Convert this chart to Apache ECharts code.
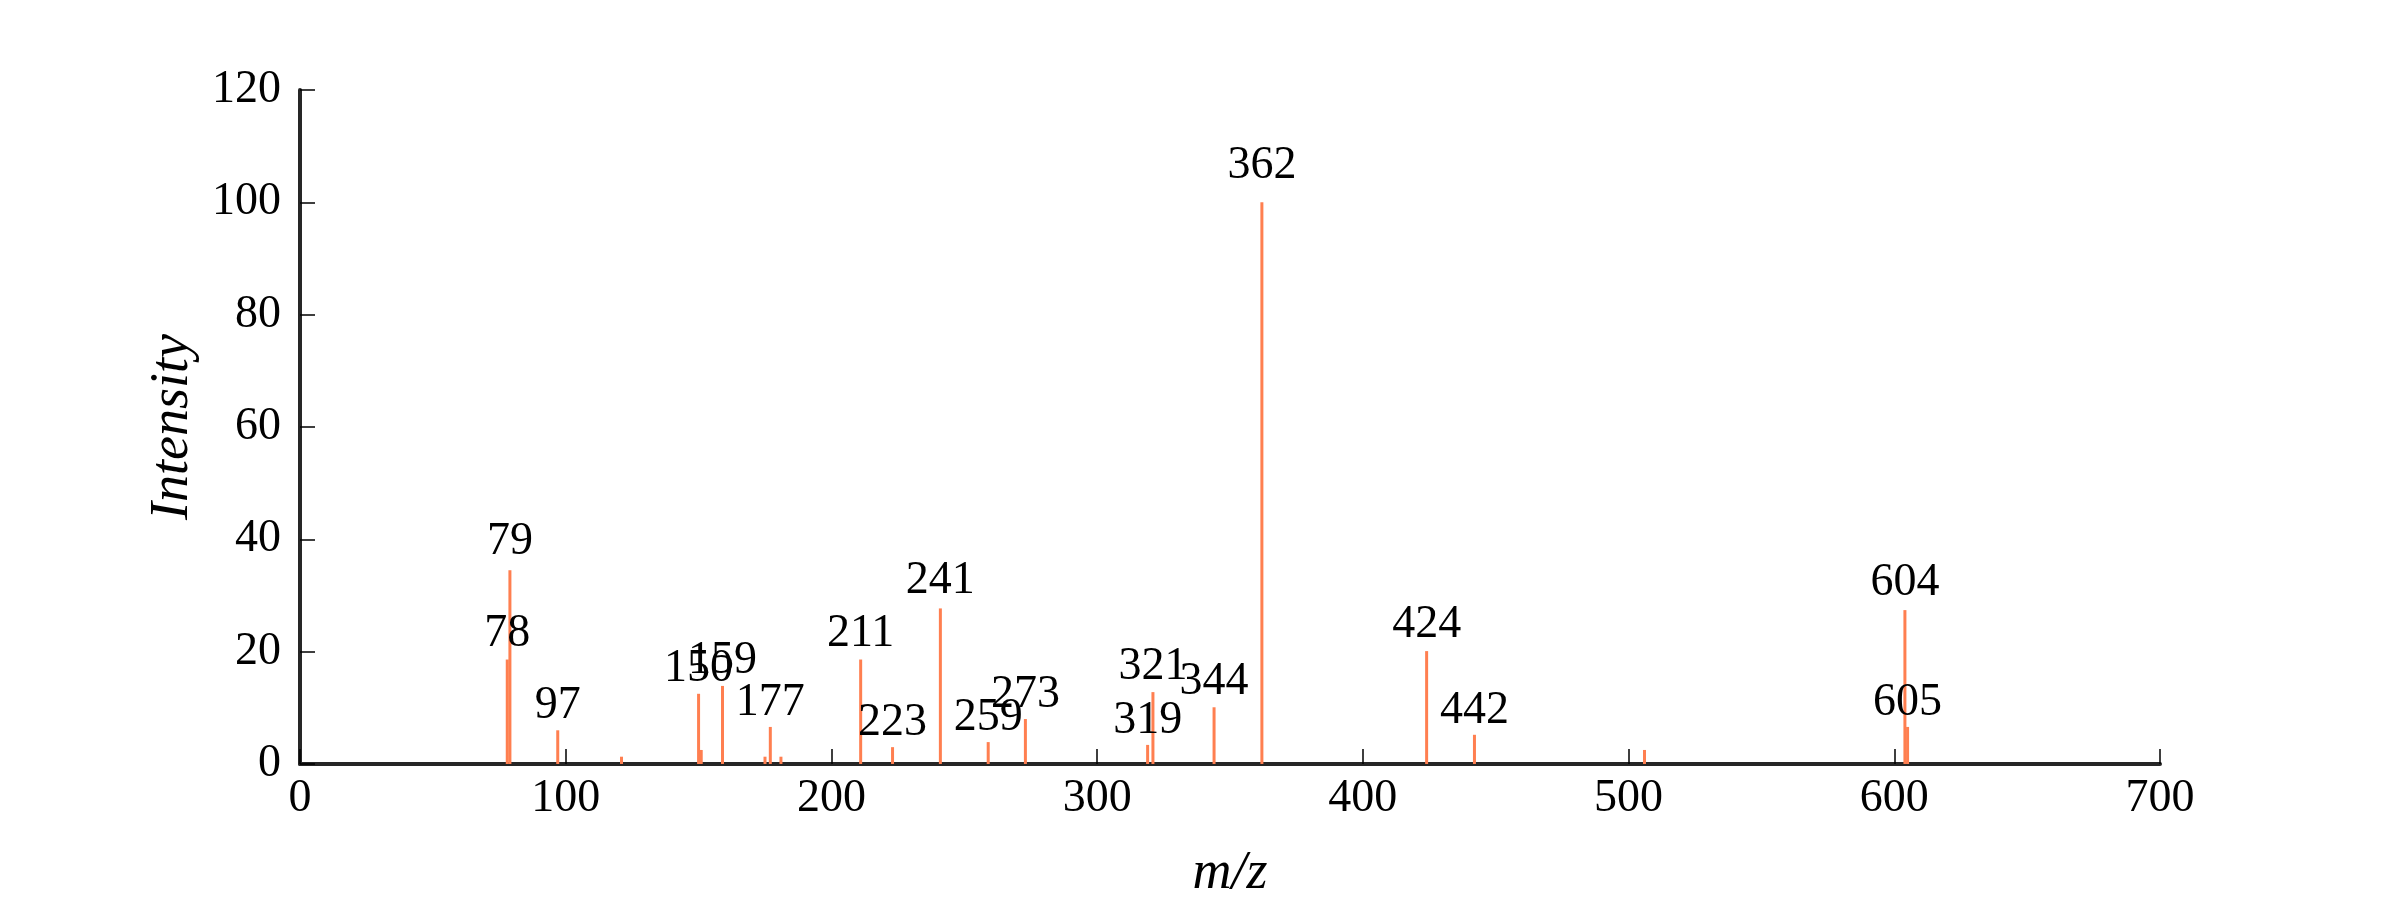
<!DOCTYPE html>
<html>
<head>
<meta charset="utf-8">
<script src="https://cdn.jsdelivr.net/npm/echarts@6/dist/echarts.min.js"></script>
<style>
html,body{margin:0;padding:0;background:#fff;}
#chart{width:2400px;height:900px;}
</style>
</head>
<body>
<div id="chart"></div>
<script>
// m/z of each peak
var mz = [78, 79, 97, 121, 150, 151, 159, 175, 177, 181, 211, 223, 241, 259, 273, 319, 321, 344, 362, 424, 442, 506, 604, 605];
// relative intensity of each peak
var intensity = [18.6, 34.5, 6.0, 1.3, 12.5, 2.5, 13.9, 1.3, 6.6, 1.3, 18.6, 3.0, 27.7, 3.9, 8.0, 3.4, 12.8, 10.1, 100, 20.1, 5.2, 2.5, 27.4, 6.6];
// peaks annotated with their m/z
var labeledPeaks = [78, 79, 97, 150, 159, 177, 211, 223, 241, 259, 273, 319, 321, 344, 362, 424, 442, 604, 605];
var xTicks = [0, 100, 200, 300, 400, 500, 600, 700];
var yTicks = [0, 20, 40, 60, 80, 100, 120];

var FONT = 'Liberation Serif';
var seriesData = mz.map(function (m, i) {
  return {
    value: [m, intensity[i]],
    label: {
      show: labeledPeaks.indexOf(m) >= 0,
      // annotation offset grows slightly with peak height, as in the reference
      distance: Math.round(0.5 + 0.12 * intensity[i])
    }
  };
});

var chart = echarts.init(document.getElementById('chart'), null, { renderer: 'canvas' });
chart.setOption({
  animation: false,
  backgroundColor: '#ffffff',
  grid: { left: 300, right: 240, top: 90, bottom: 136, containLabel: false, outerBoundsMode: 'none' },
  xAxis: {
    type: 'value',
    min: xTicks[0],
    max: xTicks[xTicks.length - 1],
    interval: xTicks[1] - xTicks[0],
    name: 'm/z',
    nameLocation: 'middle',
    nameGap: 83,
    nameTextStyle: { fontFamily: FONT, fontStyle: 'italic', fontSize: 54, color: '#000' },
    axisLine: { show: true, onZero: false, lineStyle: { color: '#262626', width: 4 } },
    axisTick: { show: true, inside: true, length: 15, lineStyle: { color: '#000', width: 1.5 } },
    axisLabel: { margin: 12, fontFamily: FONT, fontSize: 46, color: '#000' },
    splitLine: { show: false }
  },
  yAxis: {
    type: 'value',
    min: yTicks[0],
    max: yTicks[yTicks.length - 1],
    interval: yTicks[1] - yTicks[0],
    name: 'Intensity',
    nameLocation: 'middle',
    nameGap: 100,
    nameRotate: 90,
    nameTextStyle: { fontFamily: FONT, fontStyle: 'italic', fontSize: 54, color: '#000' },
    axisLine: { show: true, onZero: false, lineStyle: { color: '#262626', width: 4 } },
    axisTick: { show: true, inside: true, length: 15, lineStyle: { color: '#000', width: 1.5 } },
    axisLabel: { margin: 19, fontFamily: FONT, fontSize: 46, color: '#000' },
    splitLine: { show: false }
  },
  series: [{
    type: 'bar',
    data: seriesData,
    barWidth: 3,
    itemStyle: { color: '#ff7f50' },
    label: {
      position: 'top',
      fontFamily: FONT,
      fontSize: 46,
      color: '#000',
      formatter: function (p) { return String(p.value[0]); }
    },
    z: 2
  }]
});
</script>
</body>
</html>
